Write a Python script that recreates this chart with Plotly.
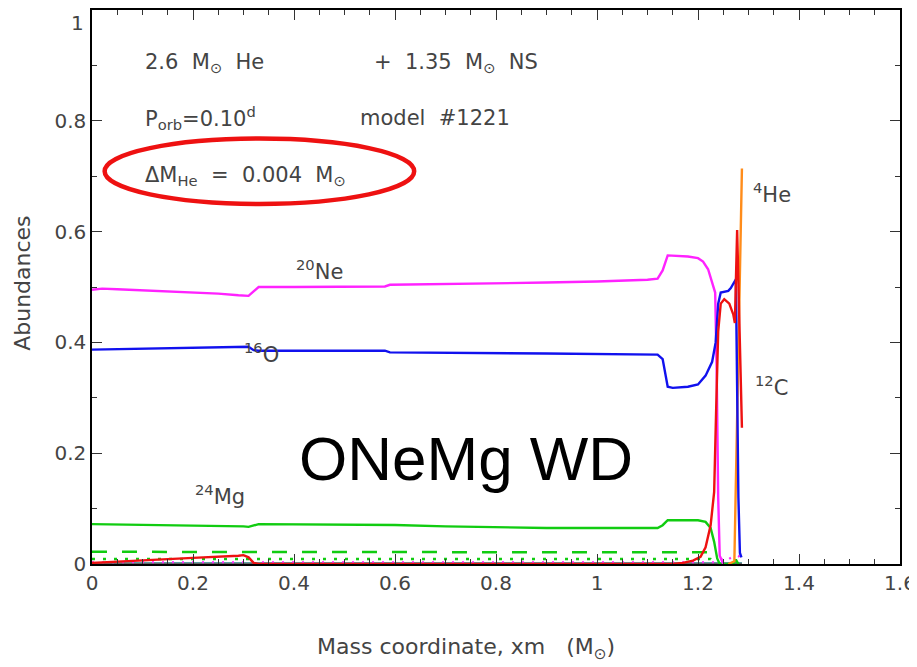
import plotly.graph_objects as go

# ---------------- data ----------------
ne20_x = [0, 0.02, 0.05, 0.1, 0.15, 0.2, 0.25, 0.29, 0.31, 0.32, 0.33, 0.4, 0.5, 0.58, 0.59, 0.7, 0.8, 0.9, 1.0,
          1.1, 1.12, 1.13, 1.14, 1.16, 1.18, 1.2, 1.21, 1.22, 1.23, 1.234, 1.237, 1.24, 1.243, 1.25]
ne20_y = [0.495, 0.497, 0.496, 0.494, 0.492, 0.490, 0.488, 0.485, 0.484, 0.492, 0.500, 0.500, 0.501, 0.501, 0.504,
          0.505, 0.506, 0.508, 0.510, 0.513, 0.515, 0.530, 0.557, 0.556, 0.555, 0.552, 0.546, 0.532, 0.505, 0.49,
          0.35, 0.12, 0.015, 0.0]

o16_x = [0, 0.1, 0.2, 0.3, 0.31, 0.32, 0.33, 0.58, 0.59, 0.9, 1.12, 1.13, 1.14, 1.15, 1.18, 1.2, 1.215, 1.228,
         1.235, 1.24, 1.245, 1.26, 1.265, 1.275, 1.277, 1.28, 1.283, 1.286]
o16_y = [0.387, 0.389, 0.391, 0.393, 0.392, 0.386, 0.385, 0.385, 0.382, 0.380, 0.378, 0.37, 0.32, 0.318, 0.32,
         0.324, 0.34, 0.365, 0.40, 0.47, 0.49, 0.493, 0.498, 0.514, 0.35, 0.12, 0.02, 0.012]

c12_x = [0, 0.1, 0.2, 0.29, 0.30, 0.31, 0.32, 0.33, 1.15, 1.17, 1.19, 1.205, 1.215, 1.225, 1.232, 1.236, 1.24,
         1.245, 1.252, 1.262, 1.27, 1.273, 1.2775, 1.287]
c12_y = [0.002, 0.006, 0.011, 0.015, 0.016, 0.012, 0.002, 0.0, 0.0, 0.002, 0.006, 0.013, 0.03, 0.07, 0.13, 0.28,
         0.42, 0.47, 0.478, 0.47, 0.45, 0.435, 0.603, 0.246]

he4_x = [1.26, 1.272, 1.287]
he4_y = [0.0, 0.005, 0.714]

mg24_x = [0, 0.1, 0.2, 0.3, 0.31, 0.33, 0.6, 0.7, 0.9, 1.0, 1.12, 1.13, 1.14, 1.2, 1.215, 1.225, 1.232, 1.238,
          1.243, 1.27, 1.275, 1.28]
mg24_y = [0.072, 0.071, 0.070, 0.068, 0.067, 0.072, 0.0705, 0.068, 0.065, 0.065, 0.065, 0.070, 0.079, 0.079, 0.076,
          0.065, 0.04, 0.01, 0.0, 0.0, 0.008, 0.0]

dash_x = [0, 0.5, 1.0, 1.22, 1.232]
dash_y = [0.022, 0.022, 0.022, 0.021, 0.0]

dotg_x = [0, 0.5, 1.0, 1.225, 1.235]
dotg_y = [0.009, 0.009, 0.009, 0.009, 0.0]

dotm_x = [0, 0.5, 1.0, 1.24, 1.25, 1.26, 1.27, 1.28, 1.287]
dotm_y = [0.003, 0.003, 0.003, 0.003, 0.012, 0.008, 0.015, 0.015, 0.005]

cyan_x = [0, 0.5, 1.0, 1.287]
cyan_y = [0.0015, 0.0015, 0.0015, 0.0015]

zero_x = [0, 1.287]
zero_y = [0.0, 0.0]

y_tickvals = [0, 0.2, 0.4, 0.6, 0.8, 1.0]
y_ticktext = ["0", "0.2", "0.4", "0.6", "0.8", ""]   # top label "1" drawn separately so it is not clipped

# ---------------- figure ----------------
fig = go.Figure()
LW = 2.4
fig.add_trace(go.Scatter(x=cyan_x, y=cyan_y, mode="lines", line=dict(color="#22c8d8", width=2)))
fig.add_trace(go.Scatter(x=zero_x, y=zero_y, mode="lines", line=dict(color="#666666", width=3)))
fig.add_trace(go.Scatter(x=dotm_x, y=dotm_y, mode="lines", line=dict(color="#ff22ff", width=2, dash="2px,8px")))
fig.add_trace(go.Scatter(x=dotg_x, y=dotg_y, mode="lines", line=dict(color="#11cc11", width=2.5, dash="3px,8px")))
fig.add_trace(go.Scatter(x=dash_x, y=dash_y, mode="lines", line=dict(color="#11cc11", width=2.5, dash="15px,15px")))
fig.add_trace(go.Scatter(x=mg24_x, y=mg24_y, mode="lines", line=dict(color="#11cc11", width=LW)))
fig.add_trace(go.Scatter(x=ne20_x, y=ne20_y, mode="lines", line=dict(color="#ff22ff", width=LW)))
fig.add_trace(go.Scatter(x=he4_x, y=he4_y, mode="lines", line=dict(color="#ff8c1a", width=LW)))
fig.add_trace(go.Scatter(x=o16_x, y=o16_y, mode="lines", line=dict(color="#1111ee", width=LW)))
fig.add_trace(go.Scatter(x=c12_x, y=c12_y, mode="lines", line=dict(color="#ee1111", width=LW)))

TXT = "#444444"
FONT = "DejaVu Sans"
axis_common = dict(
    showgrid=False, zeroline=False, showline=True, linecolor="black", linewidth=1.5, mirror="ticks",
    ticks="inside", ticklen=10, tickwidth=1, tickcolor="#333333", automargin=False,
    ticklabeloverflow="allow",
    tickfont=dict(family=FONT, size=20, color=TXT),
)
fig.update_xaxes(range=[0, 1.6], tickmode="linear", tick0=0, dtick=0.2, ticklabelstandoff=0,
                 minor=dict(dtick=0.05, ticks="inside", ticklen=5, tickcolor="#333333"),
                 **axis_common)
fig.update_yaxes(range=[0, 1], tickmode="array", tickvals=y_tickvals, ticktext=y_ticktext, ticklabelstandoff=0,
                 minor=dict(dtick=0.1, ticks="inside", ticklen=5, tickcolor="#333333"),
                 **axis_common)

# top y tick label
fig.add_annotation(x=0, y=1, xref="paper", yref="paper", showarrow=False, text="1",
                   xanchor="right", yanchor="top", xshift=-6, yshift=1,
                   font=dict(family=FONT, size=20, color=TXT))

# axis titles
fig.add_annotation(x=0.463, y=-0.152, xref="paper", yref="paper", showarrow=False,
                   text="Mass coordinate, xm   (M<sub>⊙</sub>)", xanchor="center", yanchor="middle",
                   font=dict(family=FONT, size=22, color=TXT))
fig.add_annotation(x=-0.087, y=0.507, xref="paper", yref="paper", showarrow=False, textangle=-90,
                   text="Abundances", xanchor="center", yanchor="middle",
                   font=dict(family=FONT, size=22, color=TXT))


def note(x, y, text, size=21, color=TXT, anchor="left", family=FONT):
    fig.add_annotation(x=x, y=y, xref="x", yref="y", text=text, showarrow=False, xanchor=anchor,
                       yanchor="middle", font=dict(family=family, size=size, color=color))


note(0.10, 0.905, "2.6  M<sub>⊙</sub>  He")
note(0.554, 0.905, "+  1.35  M<sub>⊙</sub>  NS")
note(0.10, 0.805, "P<sub>orb</sub>=0.10<sup>d</sup>")
note(0.526, 0.805, "model  #1221")
note(0.10, 0.70, "ΔM<sub>He</sub>  =  0.004  M<sub>⊙</sub>")
note(0.45, 0.53, "<sup>20</sup>Ne", anchor="center")
note(0.336, 0.38, "<sup>16</sup>O", anchor="center")
note(0.253, 0.124, "<sup>24</sup>Mg", anchor="center")
note(1.346, 0.322, "<sup>12</sup>C", anchor="center")
note(1.346, 0.67, "<sup>4</sup>He", anchor="center")
note(0.74, 0.19, "ONeMg WD", size=62, color="black", anchor="center", family="Liberation Sans")

fig.add_shape(type="circle", xref="x", yref="y", x0=0.025, x1=0.638, y0=0.65, y1=0.768,
              line=dict(color="#ee1111", width=4.5))

# the page body adds an 8px offset; size the figure so the plot box lands where the reference has it
fig.update_layout(
    width=909, height=659, margin=dict(l=84, r=17, t=2, b=103, autoexpand=False),
    paper_bgcolor="white", plot_bgcolor="white", showlegend=False,
)
fig.write_html("out.html")
